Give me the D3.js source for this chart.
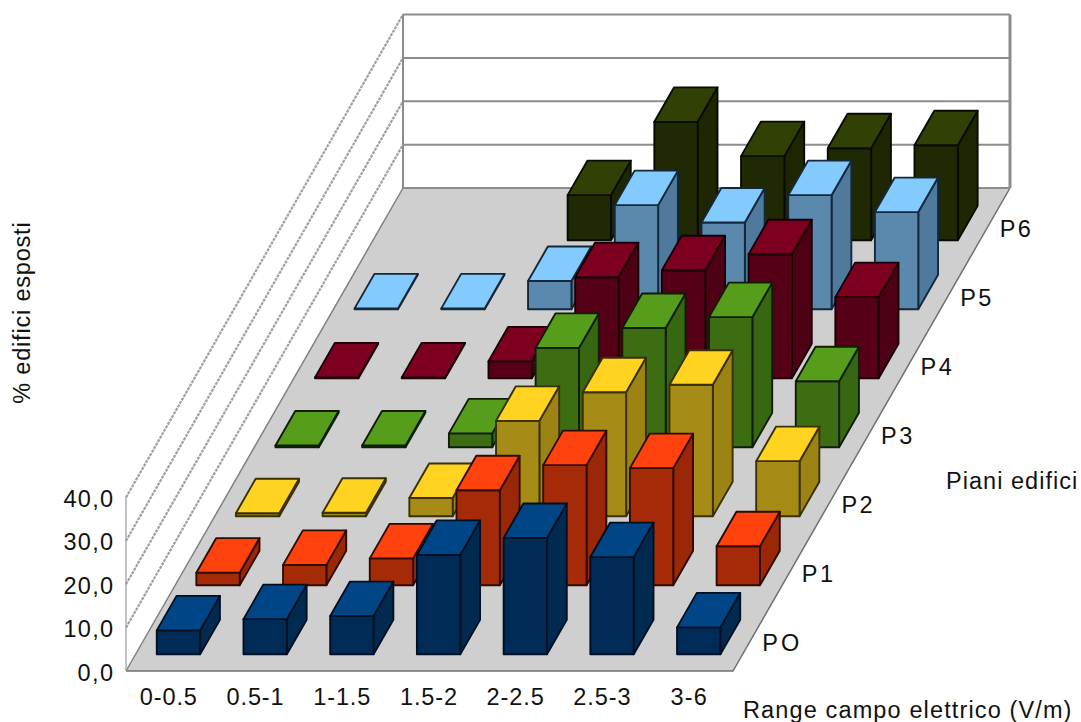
<!DOCTYPE html>
<html><head><meta charset="utf-8">
<script src="https://cdn.jsdelivr.net/npm/d3@7/dist/d3.min.js"></script>
<style>html,body{margin:0;padding:0;background:#fff}svg{display:block}text{font-family:"Liberation Sans",sans-serif;fill:#111}</style>
</head><body><svg id="c" width="1081" height="722"></svg>
<script>
const categories = ["0-0.5","0.5-1","1-1.5","1.5-2","2-2.5","2.5-3","3-6"];
const seriesNames = ["PO","P1","P2","P3","P4","P5","P6"];
const valPO = [5.5,8.1,8.8,22.9,26.8,22.4,6.2];
const valP1 = [2.9,4.7,6.2,21.9,27.7,27.0,9.0];
const valP2 = [0.7,0.8,4.2,22.0,28.6,30.3,12.7];
const valP3 = [0.4,0.4,3.2,22.9,27.5,30.0,15.2];
const valP4 = [0.2,0.2,3.9,23.3,24.9,28.6,18.7];
const valP5 = [0.2,0.2,6.5,24.0,20.0,26.3,22.4];
const valP6 = [null,null,10.4,27.3,19.4,21.2,21.9];
const seriesValues = [valPO,valP1,valP2,valP3,valP4,valP5,valP6];
const topColors = ["#004586","#ff420e","#ffd320","#579d1c","#7e0021","#83caff","#314004"];
const frontColors = ["#002b56","#a52a08","#a68c16","#3c6d13","#550016","#5b89ae","#1f2903"];
const sideColors = ["#002a50","#9a2808","#9c8314","#386711","#4e0014","#4f7a9d","#1e2702"];
const strokeColors = ["#001022","#300b02","#3a3006","#0f1e05","#180006","#14283a","#080b00"];
const yTicks = [0,10,20,30,40];
const yTickLabels = ["0,0","10,0","20,0","30,0","40,0"];

const svg = d3.select("#c");
const fx = d3.scaleLinear().domain([0,7]).range([0,607]);
const fzx = d3.scaleLinear().domain([0,7]).range([0,277]);
const fzy = d3.scaleLinear().domain([0,7]).range([0,483]);
const fh = d3.scaleLinear().domain([0,40]).range([0,173.5]);
const ox = 126, oy = 671;
const P = (X,Z,Y) => [ox + fx(X) + fzx(Z), oy - fzy(Z) - fh(Y)];
const line = d3.line();
const poly = pts => line(pts) + "Z";

svg.append("path").attr("d",poly([P(0,0,0),P(7,0,0),P(7,7,0),P(0,7,0)])).attr("fill","#cfcfcf");
svg.append("path").attr("d",poly([P(0,0,0),P(0,7,0),P(0,7,40),P(0,0,40)])).attr("fill","#fff");
svg.append("path").attr("d",line([P(0,0,0),P(7,0,0),P(7,7,0)])).attr("fill","none").attr("stroke","#707070").attr("stroke-width",1.5);
yTicks.forEach(t=>{
  svg.append("path").attr("d",line([P(0,0,t),P(0,7,t)])).attr("fill","none").attr("stroke",t===0?"#808080":"#a0a0a0").attr("stroke-width",t===0?1.5:2.2)
    .attr("stroke-dasharray",t===0?null:"3 1");
  svg.append("path").attr("d",line([P(0,7,t),P(7,7,t)])).attr("fill","none").attr("stroke","#8c8c8c").attr("stroke-width",2);
});
svg.append("path").attr("d",line([P(0,0,0),P(0,0,40)])).attr("fill","none").attr("stroke","#9a9a9a").attr("stroke-width",1.2);
svg.append("path").attr("d",line([P(0,7,0),P(0,7,40)])).attr("fill","none").attr("stroke","#8c8c8c").attr("stroke-width",2);
svg.append("path").attr("d",line([P(7,7,0),P(7,7,40)])).attr("fill","none").attr("stroke","#8c8c8c").attr("stroke-width",3);

for (let s = seriesValues.length-1; s>=0; s--) {
  const g = svg.append("g").attr("transform","translate(-0.8,0.5)");
  seriesValues[s].forEach((v,c)=>{
    if (v===null) return;
    const x0=c+.25,x1=c+.75,z0=s+.25,z1=s+.75;
    const bar=g.append("g").attr("stroke",strokeColors[s]).attr("stroke-width",1.9).attr("stroke-linejoin","round");
    bar.append("path").attr("d",poly([P(x1,z0,0),P(x1,z1,0),P(x1,z1,v),P(x1,z0,v)])).attr("fill",sideColors[s]);
    bar.append("path").attr("d",poly([P(x0,z0,0),P(x1,z0,0),P(x1,z0,v),P(x0,z0,v)])).attr("fill",frontColors[s]);
    bar.append("path").attr("d",poly([P(x0,z0,v),P(x1,z0,v),P(x1,z1,v),P(x0,z1,v)])).attr("fill",topColors[s]);
  });
}

const fs = 23.5;
function stretch(sel,k){
  const len = sel.node().getComputedTextLength();
  sel.attr("textLength",len*k*22/fs).attr("lengthAdjust","spacing");
  return sel;
}
yTicks.forEach((t,i)=>{
  stretch(svg.append("text").attr("x",113).attr("y",oy-fh(t)+9.5).attr("text-anchor","end").attr("font-size",fs).text(yTickLabels[i]),1.157);
});
categories.forEach((c,i)=>{
  stretch(svg.append("text").attr("x",ox+fx(i+.5)-1).attr("y",705).attr("text-anchor","middle").attr("font-size",fs).text(c),1.14);
});
seriesNames.forEach((n,i)=>{
  const p=P(7,i+.5,0);
  stretch(svg.append("text").attr("x",p[0]+9.5).attr("y",p[1]+14).attr("font-size",fs).text(n),1.16);
});
stretch(svg.append("text").attr("x",743).attr("y",718).attr("font-size",fs).text("Range campo elettrico (V/m)"),1.173);
stretch(svg.append("text").attr("x",946).attr("y",489).attr("font-size",fs).text("Piani edifici"),1.18);
stretch(svg.append("text").attr("transform","translate(30,313) rotate(-90)").attr("text-anchor","middle").attr("font-size",fs).text("% edifici esposti"),1.15);
</script></body></html>
